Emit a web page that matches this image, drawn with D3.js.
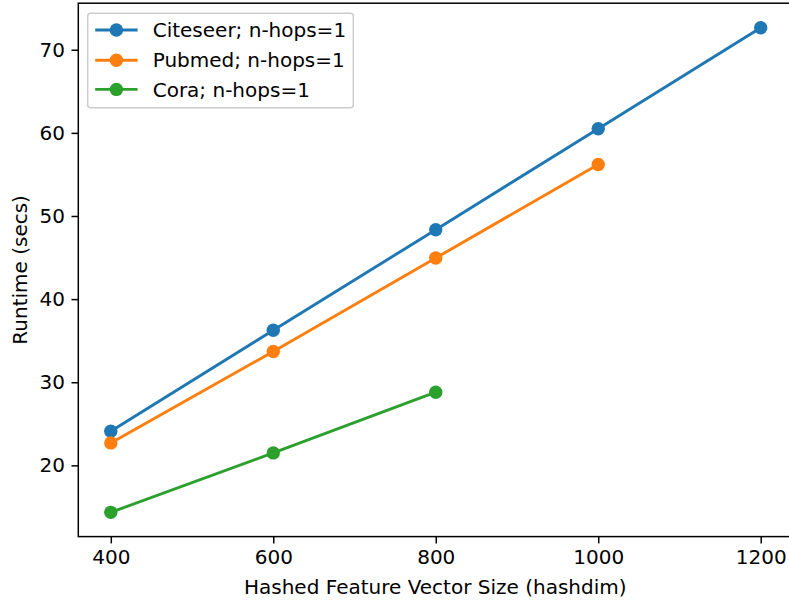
<!DOCTYPE html>
<html>
<head>
<meta charset="utf-8">
<script src="https://cdn.jsdelivr.net/npm/d3@7"></script>
<style>
  html, body { margin: 0; padding: 0; background: #fff; }
  svg { display: block; font-family: "DejaVu Sans", sans-serif; }
</style>
</head>
<body>
<svg id="chart" width="789" height="600"></svg>
<script>
// ---- data ----
const hashdim = [400, 600, 800, 1000, 1200];
const citeseer = [24.1, 36.25, 48.35, 60.5, 72.65];
const pubmed = [22.7, 33.7, 44.95, 56.2];
const cora = [14.35, 21.5, 28.8];
const seriesNames = ["Citeseer; n-hops=1", "Pubmed; n-hops=1", "Cora; n-hops=1"];
const seriesColors = ["#1f77b4", "#ff7f0e", "#2ca02c"];
const xTicks = [400, 600, 800, 1000, 1200];
const yTicks = [20, 30, 40, 50, 60, 70];
const xLabel = "Hashed Feature Vector Size (hashdim)";
const yLabel = "Runtime (secs)";

const seriesValues = [citeseer, pubmed, cora];

// ---- layout ----
const fs = 20;
const mLeft = 78.3, mRight = 793.2, mTop = 3.2, mBottom = 536.6;
const svg = d3.select("#chart");

const x = d3.scaleLinear().domain([360, 1240]).range([mLeft, mRight]);
const y = d3.scaleLinear().domain([11.43, 75.6]).range([mBottom, mTop]);

const tickLen = 6.8;
const markerR = 6.7;

// axes
const xAxis = svg.append("g")
  .attr("transform", `translate(0,${mBottom})`)
  .call(d3.axisBottom(x).tickValues(xTicks).tickSize(tickLen).tickPadding(6.3).tickFormat(d3.format("d")));
const yAxis = svg.append("g")
  .attr("transform", `translate(${mLeft},0)`)
  .call(d3.axisLeft(y).tickValues(yTicks).tickSize(tickLen).tickPadding(6.5).tickFormat(d3.format("d")));
[xAxis, yAxis].forEach(g => {
  g.select(".domain").remove();
  g.selectAll(".tick line").attr("stroke", "#000").attr("stroke-width", 1.5);
  g.selectAll(".tick text").attr("fill", "#000").style("font-size", fs + "px")
    .style("font-family", "DejaVu Sans, sans-serif");
});

// spines
svg.append("rect")
  .attr("x", mLeft).attr("y", mTop)
  .attr("width", mRight - mLeft).attr("height", mBottom - mTop)
  .attr("fill", "none").attr("stroke", "#000").attr("stroke-width", 1.5);

// lines + markers
const line = d3.line().x((d, i) => x(hashdim[i])).y(d => y(d));
seriesValues.forEach((vals, si) => {
  svg.append("path")
    .attr("d", line(vals))
    .attr("fill", "none")
    .attr("stroke", seriesColors[si])
    .attr("stroke-width", 2.9)
    .attr("stroke-linecap", "square");
  svg.append("g").selectAll("circle").data(vals).join("circle")
    .attr("cx", (d, i) => x(hashdim[i]))
    .attr("cy", d => y(d))
    .attr("r", markerR)
    .attr("fill", seriesColors[si]);
});

// axis labels
svg.append("text")
  .attr("x", (mLeft + mRight) / 2 - 0.5)
  .attr("y", 594.3)
  .attr("text-anchor", "middle")
  .style("font-size", fs + "px")
  .text(xLabel);
svg.append("text")
  .attr("transform", `translate(26.8,${(mTop + mBottom) / 2}) rotate(-90)`)
  .attr("text-anchor", "middle")
  .style("font-size", fs + "px")
  .text(yLabel);

// legend
const lg = svg.append("g");
lg.append("rect")
  .attr("x", 87.7).attr("y", 13.3)
  .attr("width", 265.6).attr("height", 94.4)
  .attr("rx", 3).attr("ry", 3)
  .attr("fill", "#fff").attr("fill-opacity", 0.8)
  .attr("stroke", "#cccccc").attr("stroke-width", 1.5);
const rowY = [30, 60.2, 89.4];
seriesNames.forEach((name, i) => {
  lg.append("line")
    .attr("x1", 95.2).attr("x2", 137.6)
    .attr("y1", rowY[i]).attr("y2", rowY[i])
    .attr("stroke", seriesColors[i]).attr("stroke-width", 2.9);
  lg.append("circle")
    .attr("cx", 116.4).attr("cy", rowY[i]).attr("r", markerR)
    .attr("fill", seriesColors[i]);
  lg.append("text")
    .attr("x", 152.7).attr("y", rowY[i])
    .attr("dy", "0.36em")
    .style("font-size", fs + "px")
    .text(name);
});
</script>
</body>
</html>
